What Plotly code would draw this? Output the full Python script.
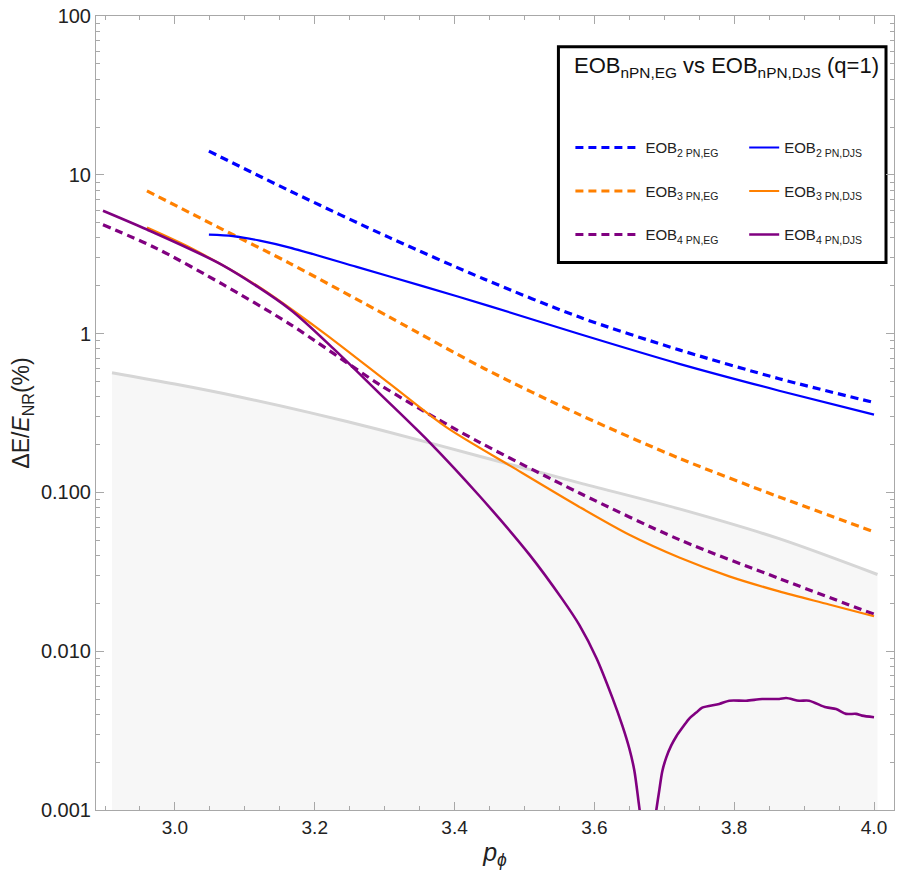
import plotly.graph_objects as go

# ---------------- data ----------------
x_eob2_eg = [3.0486, 3.1643, 3.3071, 3.4429, 3.5786, 3.7214, 3.8643, 4.0]
y_eob2_eg = [14.09, 7.92, 4.02, 2.20, 1.27, 0.790, 0.520, 0.368]

x_eob2_djs = [3.0486, 3.0829, 3.1214, 3.1643, 3.26, 3.3543, 3.45, 3.5786, 3.7214, 3.8643, 4.0]
y_eob2_djs = [4.20, 4.11, 3.85, 3.48, 2.63, 1.99, 1.49, 0.994, 0.645, 0.437, 0.309]

x_eob3_eg = [2.96, 3.0686, 3.1643, 3.3071, 3.4429, 3.5786, 3.7214, 3.8643, 4.0]
y_eob3_eg = [7.92, 4.52, 2.77, 1.27, 0.601, 0.309, 0.164, 0.0936, 0.0565]

x_eob3_djs = [2.96, 3.0214, 3.1171, 3.2114, 3.3071, 3.3886, 3.4829, 3.5786, 3.65, 3.7214,
              3.7929, 3.8643, 3.9357, 4.0]
y_eob3_djs = [4.65, 3.48, 2.01, 1.023, 0.484, 0.2566, 0.1442, 0.0810, 0.0541, 0.0389,
              0.0296, 0.0238, 0.0197, 0.0166]

x_eob4_eg = [2.8971, 2.9743, 3.0686, 3.1643, 3.2929, 3.3743, 3.4357, 3.5786, 3.7214, 3.8643, 4.0]
y_eob4_eg = [4.85, 3.43, 2.04, 1.148, 0.477, 0.292, 0.2067, 0.0991, 0.0504, 0.0287, 0.0171]

x_eob4_djs = [2.8971, 2.96, 3.0686, 3.1643, 3.2286, 3.2929, 3.3643, 3.4357, 3.5071, 3.5543,
              3.5786, 3.6029, 3.6257, 3.64, 3.65, 3.6571, 3.6629, 3.6671, 3.672, 3.678,
              3.684, 3.6857, 3.6886, 3.6929, 3.6971, 3.7029, 3.71, 3.7171, 3.7271, 3.7357,
              3.7457, 3.7543, 3.7786, 3.7929, 3.8171, 3.84, 3.8643, 3.8743, 3.8929, 3.9071,
              3.9314, 3.9457, 3.96, 3.9743, 3.9829, 4.0]
y_eob4_djs = [5.94, 4.52, 2.69, 1.425, 0.790, 0.419, 0.2067, 0.0949, 0.0406, 0.0212,
              0.0146, 0.00907, 0.00510, 0.00340, 0.00244, 0.00178, 0.001155, 0.00081, 0.00035, 0.00002,
              0.0004, 0.000806, 0.0010, 0.001334, 0.00175, 0.002146, 0.002551, 0.002905, 0.003355, 0.003765,
              0.004105, 0.004411, 0.004652, 0.004879, 0.004879, 0.0050, 0.0050, 0.005073, 0.004879, 0.004879,
              0.00443, 0.00433, 0.00403, 0.00403, 0.00393, 0.00384]

x_bound = [2.91, 3.0, 3.0929, 3.1929, 3.2929, 3.4357, 3.5786, 3.7214, 3.8643, 4.005]
y_bound = [0.567, 0.481, 0.399, 0.318, 0.248, 0.169, 0.1148, 0.0787, 0.0511, 0.0304]
y_floor = 1e-4

y_tickvals = [0.001, 0.01, 0.1, 1, 10, 100]
y_ticktext = ["0.001", "0.010", "0.100", "1", "10", "100"]
x_tickvals = [3.0, 3.2, 3.4, 3.6, 3.8, 4.0]
x_ticktext = ["3.0", "3.2", "3.4", "3.6", "3.8", "4.0"]

# ---------------- figure ----------------
BLUE = "#0000ff"
ORANGE = "#ff8000"
PURPLE = "#800080"
DASH = "8px,5px"
FONT = "Liberation Sans, Arial, sans-serif"

fig = go.Figure()

# shaded region below the boundary curve
fig.add_trace(go.Scatter(x=[x_bound[0], x_bound[-1]], y=[y_floor, y_floor], mode="lines",
                         line=dict(width=0, color="rgba(0,0,0,0)"), showlegend=False,
                         hoverinfo="skip"))
fig.add_trace(go.Scatter(x=x_bound, y=y_bound, mode="lines", fill="tonexty",
                         fillcolor="#f7f7f7",
                         line=dict(color="#d6d6d6", width=3, shape="spline", smoothing=0.8),
                         showlegend=False))

series = [
    (x_eob2_eg, y_eob2_eg, BLUE, True, "EOB<sub>2 PN,EG</sub>", "legend", 3.2),
    (x_eob3_eg, y_eob3_eg, ORANGE, True, "EOB<sub>3 PN,EG</sub>", "legend", 3.2),
    (x_eob4_eg, y_eob4_eg, PURPLE, True, "EOB<sub>4 PN,EG</sub>", "legend", 3.2),
    (x_eob2_djs, y_eob2_djs, BLUE, False, "EOB<sub>2 PN,DJS</sub>", "legend2", 2.2),
    (x_eob3_djs, y_eob3_djs, ORANGE, False, "EOB<sub>3 PN,DJS</sub>", "legend2", 2.2),
    (x_eob4_djs, y_eob4_djs, PURPLE, False, "EOB<sub>4 PN,DJS</sub>", "legend2", 2.6),
]
for i, (xs, ys, col, dashed, name, leg, w) in enumerate(series):
    fig.add_trace(go.Scatter(
        x=xs, y=ys, mode="lines", name=name, legend=leg, legendgroup=f"g{i}",
        line=dict(color=col, width=w, dash=DASH if dashed else "solid", shape="spline",
                  smoothing=0.8),
    ))

axis_common = dict(
    showline=True, linecolor="#a8a8a8", linewidth=1, mirror="ticks",
    ticks="inside", ticklen=8, tickcolor="#a8a8a8", tickwidth=1,
    showgrid=False, zeroline=False,
)

fig.update_xaxes(
    range=[2.8871, 4.0286], tickmode="array", tickvals=x_tickvals, ticktext=x_ticktext,
    tickfont=dict(family=FONT, size=19, color="#222"),
    minor=dict(ticks="inside", ticklen=4, tickcolor="#a8a8a8", dtick=0.05, tick0=2.9,
               showgrid=False),
    title=dict(text="<i>p</i><sub><i>ϕ</i></sub>", font=dict(family=FONT, size=25, color="#222"),
               standoff=6),
    **axis_common,
)
y_minor = [m * 10.0 ** e for e in range(-3, 2) for m in range(2, 10)]
fig.update_yaxes(
    type="log", range=[-3, 2], tickmode="array", tickvals=y_tickvals, ticktext=y_ticktext,
    tickfont=dict(family=FONT, size=20, color="#222"),
    minor=dict(ticks="inside", ticklen=4, tickcolor="#a8a8a8", tickmode="array",
               tickvals=y_minor, showgrid=False),
    title=dict(text="ΔE/<i>E</i><sub>NR</sub>(%)", font=dict(family=FONT, size=23, color="#222"),
               standoff=4),
    **axis_common,
)

W, H = 900, 882
L, R, T, B = 96, 5, 11, 72
pw, ph = W - L - R, H - T - B


def px(xp):
    return (xp - L) / pw


def py(yp):
    return 1 - (yp - T) / ph


leg_common = dict(
    bgcolor="rgba(0,0,0,0)", borderwidth=0, yanchor="top", xanchor="left",
    tracegroupgap=21, font=dict(family=FONT, size=15, color="#222"),
)
fig.update_layout(
    width=W, height=H, margin=dict(l=L, r=R, t=T, b=B),
    paper_bgcolor="white", plot_bgcolor="white",
    legend=dict(x=px(571), y=py(127), itemwidth=65, **leg_common),
    legend2=dict(x=px(745), y=py(127), itemwidth=30, **leg_common),
    shapes=[dict(type="rect", xref="paper", yref="paper",
                 x0=px(559), x1=px(887), y0=py(259), y1=py(42),
                 line=dict(color="black", width=3), fillcolor="white", layer="below")],
    annotations=[dict(text="EOB<sub>nPN,EG</sub> vs EOB<sub>nPN,DJS</sub> (q=1)",
                      xref="paper", yref="paper", x=px(727), y=py(62),
                      xanchor="center", yanchor="middle", showarrow=False,
                      font=dict(family=FONT, size=22, color="#111"))],
)

fig.write_html("out.html")
